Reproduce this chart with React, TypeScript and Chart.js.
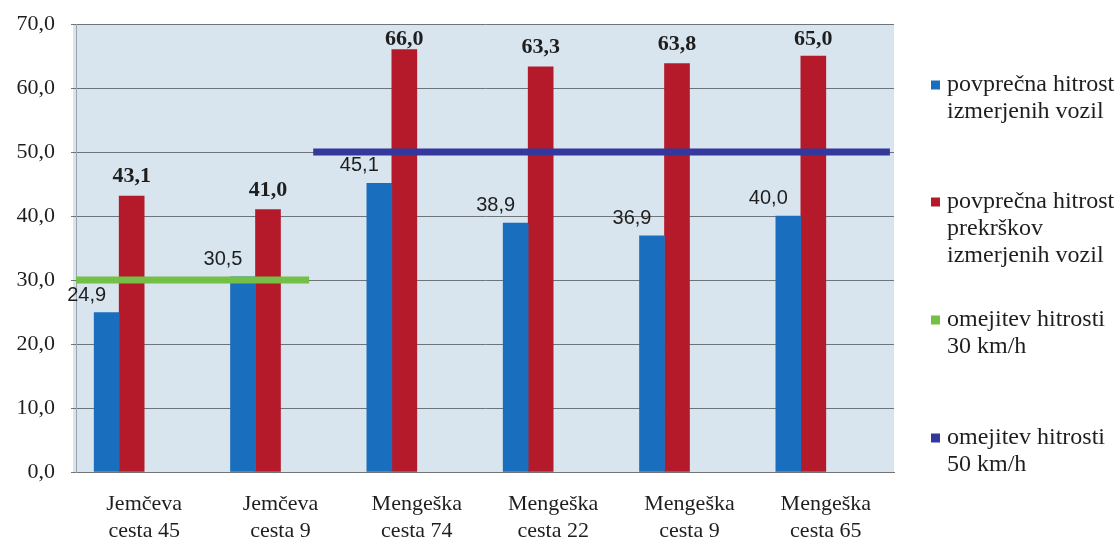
import { useEffect, useRef } from 'react';
import { Chart, registerables } from 'chart.js';

Chart.register(...registerables);

// ---- data ----
const categories: string[][] = [
  ['Jemčeva', 'cesta 45'],
  ['Jemčeva', 'cesta 9'],
  ['Mengeška', 'cesta 74'],
  ['Mengeška', 'cesta 22'],
  ['Mengeška', 'cesta 9'],
  ['Mengeška', 'cesta 65'],
];
const avgSpeed = [24.9, 30.5, 45.1, 38.9, 36.9, 40.0];
const avgViolationSpeed = [43.1, 41.0, 66.0, 63.3, 63.8, 65.0];
const limit30 = 30;
const limit30Span = [-0.5, 1.21];
const limit50 = 50;
const limit50Span = [1.24, 5.47];
const seriesNames: string[][] = [
  ['povprečna hitrost', 'izmerjenih vozil'],
  ['povprečna hitrost', 'prekrškov', 'izmerjenih vozil'],
  ['omejitev hitrosti', '30 km/h'],
  ['omejitev hitrosti', '50 km/h'],
];
const yMin = 0;
const yMax = 70;
const yStep = 10;

const fmt = (v: number) => Number(v).toFixed(1).replace('.', ',');
const SERIF = '"Liberation Serif", "Times New Roman", serif';
const SANS = '"Liberation Sans", Arial, sans-serif';

const plotBg = {
  id: 'plotBg',
  beforeDraw(chart: any) {
    const { ctx, chartArea: a } = chart;
    ctx.save();
    ctx.fillStyle = '#d9e5ee';
    ctx.fillRect(a.left - 3, a.top, a.right - a.left + 3, a.bottom - a.top);
    ctx.restore();
  },
};

const valueLabels = {
  id: 'valueLabels',
  afterDatasetsDraw(chart: any) {
    const { ctx } = chart;
    ctx.save();
    ctx.fillStyle = '#1e1e1e';
    ctx.textBaseline = 'alphabetic';
    chart.data.datasets.forEach((ds: any, di: number) => {
      const kind = ds.valueLabel;
      if (!kind) return;
      const meta = chart.getDatasetMeta(di);
      meta.data.forEach((el: any, i: number) => {
        const v = ds.data[i];
        if (v == null) return;
        const { x, y } = el.getProps(['x', 'y'], true);
        const txt = fmt(v);
        if (kind === 'above') {
          ctx.font = `bold 22px ${SERIF}`;
          ctx.textAlign = 'center';
          ctx.fillText(txt, x, Math.max(y - 14, 45));
        } else {
          ctx.font = `20px ${SANS}`;
          ctx.textAlign = 'center';
          ctx.fillText(txt, x - 20, y - 12);
        }
      });
    });
    ctx.restore();
  },
};

const sideLegend = {
  id: 'sideLegend',
  afterDraw(chart: any) {
    const { ctx } = chart;
    const firstLineY = [85, 202, 320, 438];
    const lineH = 27;
    const boxX = 931;
    const textX = 947;
    const box = 9;
    ctx.save();
    ctx.font = `24px ${SERIF}`;
    ctx.textBaseline = 'middle';
    ctx.textAlign = 'left';
    let k = 0;
    chart.data.datasets.forEach((ds: any) => {
      if (!ds.legendLines) return;
      const y0 = firstLineY[k++];
      ctx.fillStyle = ds.legendColor;
      ctx.fillRect(boxX, y0 - box / 2, box, box);
      ctx.fillStyle = '#1e1e1e';
      ds.legendLines.forEach((line: string, li: number) => {
        ctx.fillText(line, textX, y0 + li * lineH);
      });
    });
    ctx.restore();
  },
};

export default function App() {
  const ref = useRef<HTMLCanvasElement | null>(null);

  useEffect(() => {
    if (!ref.current) return;
    const blue = '#1a6ebe';
    const red = '#b41a2a';
    const green = '#74bf45';
    const navy = '#34379b';
    const barStyle = { type: 'bar', order: 1, barThickness: 25, borderWidth: 0 };
    const lineStyle = {
      type: 'line',
      order: 0,
      parsing: false,
      borderWidth: 7,
      pointRadius: 0,
      borderCapStyle: 'butt',
      fill: false,
    };
    const chart = new Chart(ref.current, {
      type: 'bar',
      data: {
        labels: categories,
        datasets: [
          {
            ...barStyle,
            data: avgSpeed,
            backgroundColor: blue,
            valueLabel: 'left',
            legendLines: seriesNames[0],
            legendColor: blue,
          } as any,
          {
            ...barStyle,
            data: avgViolationSpeed,
            backgroundColor: red,
            valueLabel: 'above',
            legendLines: seriesNames[1],
            legendColor: red,
          } as any,
          { ...barStyle, data: categories.map(() => null), backgroundColor: 'transparent' } as any,
          { ...barStyle, data: categories.map(() => null), backgroundColor: 'transparent' } as any,
          {
            ...lineStyle,
            data: limit30Span.map((x) => ({ x, y: limit30 })),
            borderColor: green,
            legendLines: seriesNames[2],
            legendColor: green,
          } as any,
          {
            ...lineStyle,
            data: limit50Span.map((x) => ({ x, y: limit50 })),
            borderColor: navy,
            legendLines: seriesNames[3],
            legendColor: navy,
          } as any,
        ],
      },
      options: {
        animation: false,
        responsive: false,
        maintainAspectRatio: false,
        layout: { padding: { left: 0, right: 226, top: 24, bottom: 0 } },
        plugins: {
          legend: { display: false },
          tooltip: { enabled: false },
        },
        scales: {
          x: {
            type: 'category',
            offset: true,
            min: 0,
            max: categories.length - 1,
            grid: { display: false, drawTicks: false },
            border: { display: true, color: '#6f7479' },
            ticks: {
              font: { family: SERIF, size: 22, lineHeight: 1.25 },
              color: '#1e1e1e',
              padding: 18,
              maxRotation: 0,
              autoSkip: false,
            },
            afterFit: (s: any) => {
              s.height = 67;
              s.paddingLeft = 0;
              s.paddingRight = 0;
            },
          },
          y: {
            min: yMin,
            max: yMax,
            ticks: {
              stepSize: yStep,
              callback: (v: any) => fmt(v),
              font: { family: SERIF, size: 22 },
              color: '#1e1e1e',
              padding: 16,
            },
            grid: { color: '#6f7479', lineWidth: 1, tickLength: 5 },
            border: { display: true, color: '#9aa3aa' },
            afterFit: (s: any) => {
              s.width = 76;
              s.paddingTop = 0;
              s.paddingBottom = 0;
            },
          },
        } as any,
      },
      plugins: [plotBg, valueLabels, sideLegend],
    });
    return () => chart.destroy();
  }, []);

  return (
    <div style={{ position: 'absolute', left: 0, top: 0, width: 1120, height: 539, background: '#fff' }}>
      <canvas ref={ref} width={1120} height={539} style={{ display: 'block' }} />
    </div>
  );
}
